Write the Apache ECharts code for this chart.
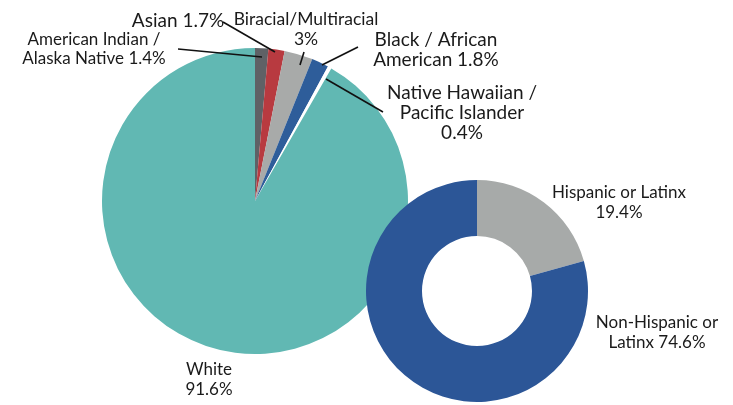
<!DOCTYPE html>
<html><head><meta charset="utf-8">
<script src="https://cdn.jsdelivr.net/npm/echarts@6/dist/echarts.min.js"></script>
<style>html,body{margin:0;padding:0;background:#fff}#c{width:733px;height:405px}</style>
</head><body><div id="c"></div>
<script>
const raceNames = ["American Indian /\nAlaska Native", "Asian", "Biracial/Multiracial\n", "Black / African\nAmerican", "Native Hawaiian /\nPacific Islander\n", "White\n"];
const raceValues = [1.4, 1.7, 3, 1.8, 0.4, 91.6];
const raceColors = ["#5f6166", "#b83a40", "#a8aaa9", "#2e5d9a", "#ffffff", "#61b8b3"];
const ethNames = ["Hispanic or Latinx\n", "Non-Hispanic or\nLatinx"];
const ethValues = [19.4, 74.6];
const ethColors = ["#a7aaa9", "#2c5697"];

const racePos = [[94,49],[178,21],[306,29],[436,50],[462,113],[209,380]];
const raceFont = [17, 19, 17.5, 19, 19, 17];
const raceLines = [
  [[178,49],[262,57]],
  [[223,22],[275,52]],
  [[304,52],[300,65]],
  [[358,47],[322,65]],
  [[326,79],[383,112]]
];
const ethPos = [[619,203],[657,333]];

const fontFamily = 'Lato, "Open Sans", sans-serif';
const fmt = p => p.name + (p.name.endsWith('\n') ? '' : ' ') + p.value + '%';

const chart = echarts.init(document.getElementById('c'), null, {renderer: 'canvas'});
chart.setOption({
  animation: false,
  graphic: raceLines.map(l => ({
    type: 'line', z: 100, silent: true,
    shape: {x1: l[0][0], y1: l[0][1], x2: l[1][0], y2: l[1][1]},
    style: {stroke: '#111', lineWidth: 1.6}
  })),
  series: [
    {
      type: 'pie', center: [255, 201], radius: 153, startAngle: 90, clockwise: true,
      data: raceNames.map((n, i) => ({name: n, value: raceValues[i], itemStyle: {color: raceColors[i]},
        label: {fontSize: raceFont[i], lineHeight: i === 0 ? 19 : 20}})),
      itemStyle: {borderWidth: 0},
      label: {show: true, position: 'outside', align: 'center', formatter: fmt,
        fontFamily: fontFamily, fontSize: 17, color: '#1a1a1a', lineHeight: 20},
      labelLine: {show: false},
      labelLayout: p => ({x: racePos[p.dataIndex][0], y: racePos[p.dataIndex][1], align: 'center', verticalAlign: 'middle'}),
      emphasis: {disabled: true}, silent: true
    },
    {
      type: 'pie', center: [477, 291], radius: [55, 111], startAngle: 90, clockwise: true,
      data: ethNames.map((n, i) => ({name: n, value: ethValues[i], itemStyle: {color: ethColors[i]}})),
      itemStyle: {borderWidth: 0},
      label: {show: true, position: 'outside', align: 'center', formatter: fmt,
        fontFamily: fontFamily, fontSize: 17, color: '#1a1a1a', lineHeight: 20},
      labelLine: {show: false},
      labelLayout: p => ({x: ethPos[p.dataIndex][0], y: ethPos[p.dataIndex][1], align: 'center', verticalAlign: 'middle'}),
      emphasis: {disabled: true}, silent: true
    }
  ]
});
</script></body></html>
